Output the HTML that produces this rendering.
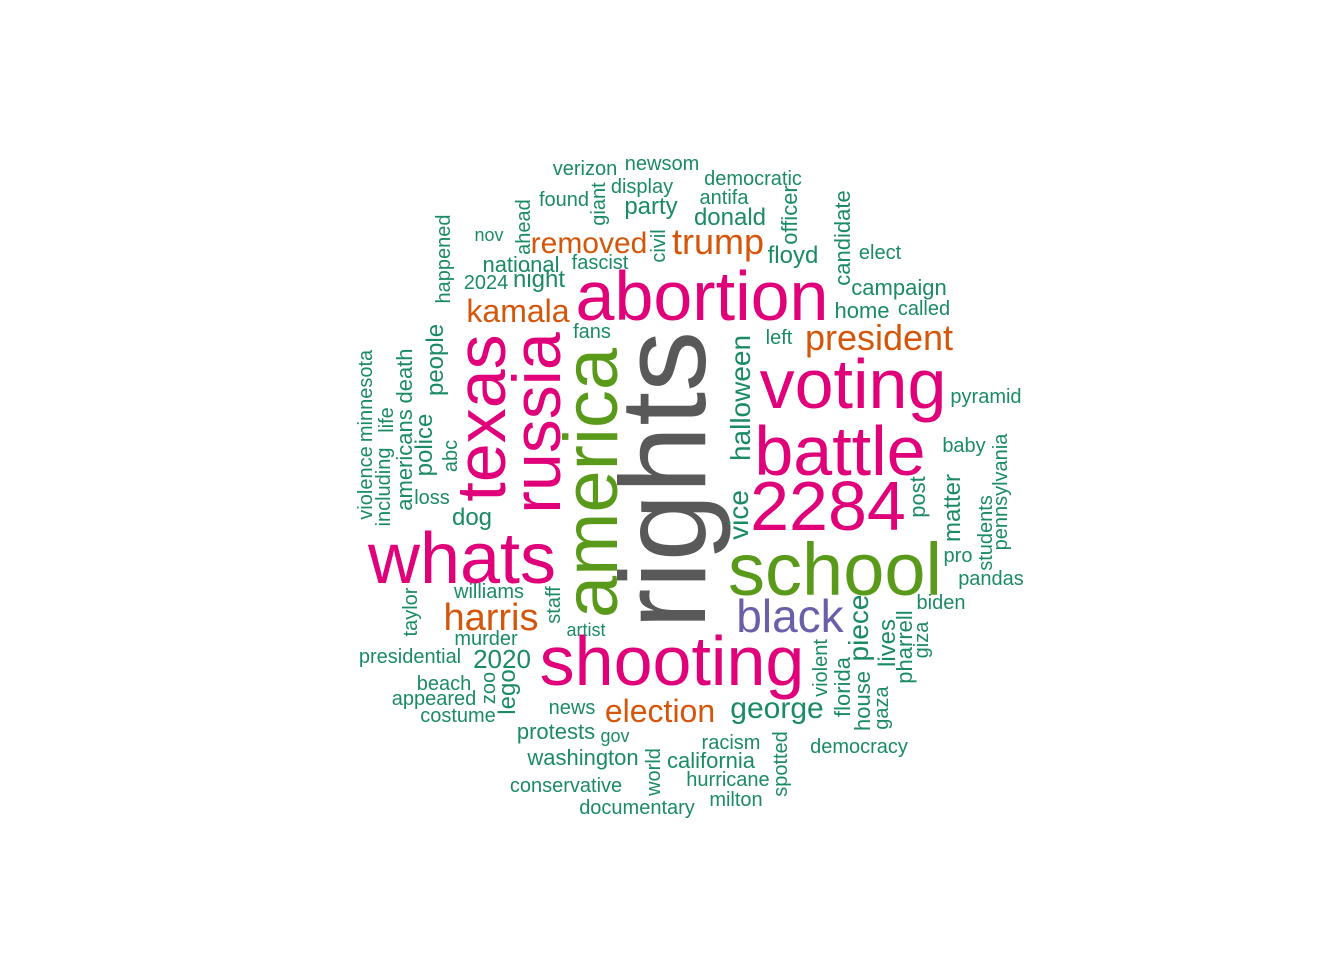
<!DOCTYPE html>
<html><head><meta charset="utf-8"><style>
html,body{margin:0;padding:0;background:#fff;}
svg{display:block;}
text{font-family:"Liberation Sans",Arial,sans-serif;}
</style></head>
<body>
<svg id="cloud" width="1344" height="960" viewBox="0 0 1344 960" xmlns="http://www.w3.org/2000/svg"></svg>
<script>
const words = ["rights","abortion","voting","battle","2284","whats","school","shooting","america","russia","texas","black","president","harris","trump","removed","kamala","election","george","halloween","vice","piece","2020","people","police","dog","party","donald","floyd","matter","night","lives","lego","national","protests","washington","california","home","campaign","americans","death","post","pharrell","florida","house","officer","candidate","verizon","newsom","democratic","display","found","antifa","nov","fascist","2024","elect","called","fans","left","pyramid","baby","loss","abc","violence","minnesota","including","life","happened","ahead","giant","civil","staff","williams","artist","murder","presidential","taylor","beach","appeared","costume","zoo","news","gov","racism","democracy","hurricane","conservative","documentary","milton","world","spotted","pro","pandas","biden","students","pennsylvania","giza","violent","gaza"];
const freqs = [55,29,29,29,29,30,31,29,32,28,29,17,12,13,12,9,10,10,9,8,8,8,7,6,6,6,6,6,6,6,6,6,6,5,5,5,5,5,5,5,5,5,5,5,5,5,5,4,4,4,4,4,4,3,4,4,4,4,4,4,4,4,4,4,4,4,4,4,4,4,4,4,4,4,3,4,4,4,4,4,4,4,4,3,4,4,4,4,4,4,4,4,4,4,4,4,4,4,4,4];
const colorIdx = ["k","p","p","p","p","p","a","p","a","p","p","v","o","o","o","o","o","o","g","g","g","g","g","g","g","g","g","g","g","g","g","g","g","g","g","g","g","g","g","g","g","g","g","g","g","g","g","g","g","g","g","g","g","g","g","g","g","g","g","g","g","g","g","g","g","g","g","g","g","g","g","g","g","g","g","g","g","g","g","g","g","g","g","g","g","g","g","g","g","g","g","g","g","g","g","g","g","g","g","g"];
const layoutX = [705,702,853,840,828,462,835,672,617,560,505,790,879,491,718,589,518,660,777,750,748,868,502,443,432,472,651,730,793,960,539,895,515,521,556,583,711,862,899,412,412,925,912,850,870,797,850,585,662,753,642,564,724,489,600,486,880,924,592,779,986,964,432,457,372,372,390,393,450,530,605,665,560,489,586,486,410,417,444,434,458,495,572,615,731,859,728,566,637,736,660,787,958,991,941,992,1007,928,827,888];
const layoutY = [480,320,408,475,530,583,595,685,483,423,418,632,350,630,254,253,322,722,718,398,515,628,668,360,445,525,214,225,263,508,287,643,692,272,739,765,768,318,295,460,376,497,647,687,701,215,238,175,170,185,193,206,204,241,269,289,259,315,338,344,403,452,504,456,483,396,487,420,259,227,204,246,605,598,636,645,663,612,690,705,722,688,714,742,749,753,786,792,814,806,772,764,562,585,609,533,492,640,668,708];
const layoutRot = [1,0,0,0,0,0,0,0,1,1,1,0,0,0,0,0,0,0,0,1,1,1,0,1,1,0,0,0,0,1,0,1,1,0,0,0,0,0,0,1,1,1,1,1,1,1,1,0,0,0,0,0,0,0,0,0,0,0,0,0,0,0,0,1,1,1,1,1,1,1,1,1,1,0,0,0,0,1,0,0,0,1,0,0,0,0,0,0,0,0,1,1,0,0,0,1,1,1,1,1];

const palette = {k:"#595959",p:"#E0007A",a:"#5A9A1A",v:"#6A5FA8",o:"#D4560B",g:"#1B8A66"};
function sizeScale(f){ return 12 + 2*f; }
const svg = document.getElementById('cloud');
const NS = "http://www.w3.org/2000/svg";
words.forEach((w,i)=>{
  const t = document.createElementNS(NS,'text');
  
  
  t.setAttribute('font-size', sizeScale(freqs[i]));
  t.setAttribute('fill', palette[colorIdx[i]]);
  t.setAttribute('text-anchor','middle');
  if (layoutRot[i]) {
    t.setAttribute('transform','translate(' + layoutX[i] + ',' + layoutY[i] + ') rotate(-90)');
  } else {
    t.setAttribute('x', layoutX[i]);
    t.setAttribute('y', layoutY[i]);
  }
  t.textContent = w;
  svg.appendChild(t);
});
</script>
</body></html>
